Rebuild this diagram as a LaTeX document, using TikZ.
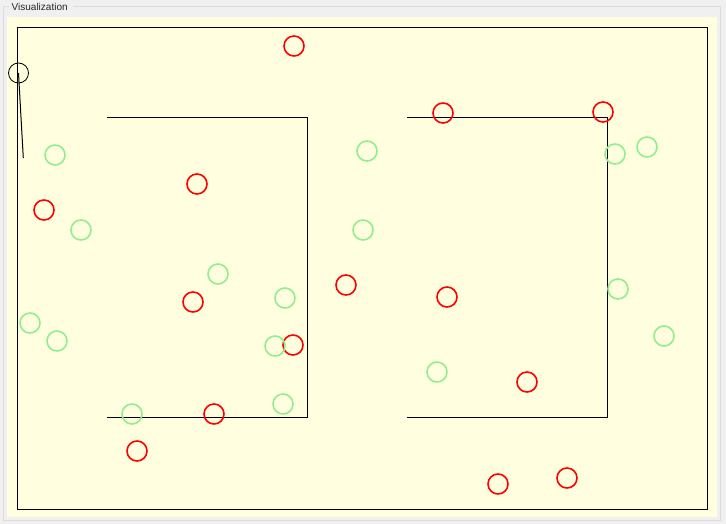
\documentclass[tikz,border=0pt]{standalone}
\usepackage{fontspec}
\setmainfont{Liberation Sans}
\definecolor{winbg}{HTML}{F0F0F0}
\definecolor{gbline}{HTML}{DCDCDC}
\definecolor{panel}{HTML}{FFFFE0}
\definecolor{lgreen}{HTML}{90EE90}
\definecolor{lred}{HTML}{FF0000}
\tikzset{
  ball/.style={circle, draw, inner sep=0pt, minimum size=20pt, line width=1.6pt},
  redball/.style={ball, draw=lred},
  greenball/.style={ball, draw=lgreen},
  pole/.style={circle, draw=black, inner sep=0pt, minimum size=20pt, line width=0.8pt},
  wall/.style={draw=black, line width=1.2pt},
}
\begin{document}
\begin{tikzpicture}[x=1pt,y=-1pt]
\useasboundingbox (0,0) rectangle (726,524);
\fill[winbg] (0,0) rectangle (726,524);
% group box frame
\draw[gbline, line width=1pt] (9,7) -- (3.5,7) -- (3.5,520.5) -- (720.5,520.5) -- (720.5,7) -- (73,7);
\node[anchor=west, inner sep=0pt, font=\fontsize{10}{12}\selectfont, text=black!85] (title) at (11.5,7) {Visualization};
\fill[panel] (7,17) rectangle (717,517);
% field boundary
\draw[black, line width=1pt] (17.5,27.5) rectangle (707.5,509.5);
% two goals
\coordinate (a1) at (107,117.5); \coordinate (a2) at (307.5,117.5);
\coordinate (a3) at (307.5,417.5); \coordinate (a4) at (107,417.5);
\coordinate (b1) at (407,117.5); \coordinate (b2) at (607.5,117.5);
\coordinate (b3) at (607.5,417.5); \coordinate (b4) at (407,417.5);
\draw[black, line width=1.1pt] (a1) -- (a2) -- (a3) -- (a4);
\draw[black, line width=1.1pt] (b1) -- (b2) -- (b3) -- (b4);
% robot / pole
\node[pole] (p) at (18.5,73) {};
\coordinate (ptip) at (23.3,158);
\draw[black, line width=1pt] (p.center) -- (ptip);
% red balls
\node[redball] (r1) at (294,46) {};
\node[redball] (r2) at (197,184) {};
\node[redball] (r3) at (44,210) {};
\node[redball] (r4) at (193,302) {};
\node[redball] (r5) at (293,345) {};
\node[redball] (r6) at (214,414) {};
\node[redball] (r7) at (137,451) {};
\node[redball] (r8) at (443,113) {};
\node[redball] (r9) at (603,112) {};
\node[redball] (r10) at (346,285) {};
\node[redball] (r11) at (447,297) {};
\node[redball] (r12) at (527,382) {};
\node[redball] (r13) at (498,484) {};
\node[redball] (r14) at (567,478) {};
% green balls
\node[greenball] (g1) at (55,155) {};
\node[greenball] (g2) at (81,230) {};
\node[greenball] (g3) at (30,323) {};
\node[greenball] (g4) at (57,341) {};
\node[greenball] (g5) at (218,274) {};
\node[greenball] (g6) at (285,298) {};
\node[greenball] (g7) at (275,346) {};
\node[greenball] (g8) at (283,404) {};
\node[greenball] (g9) at (132,414) {};
\node[greenball] (g10) at (367,151) {};
\node[greenball] (g11) at (363,230) {};
\node[greenball] (g12) at (615,154) {};
\node[greenball] (g13) at (647,147) {};
\node[greenball] (g14) at (618,289) {};
\node[greenball] (g15) at (664,336) {};
\node[greenball] (g16) at (437,372) {};
\end{tikzpicture}
\end{document}
